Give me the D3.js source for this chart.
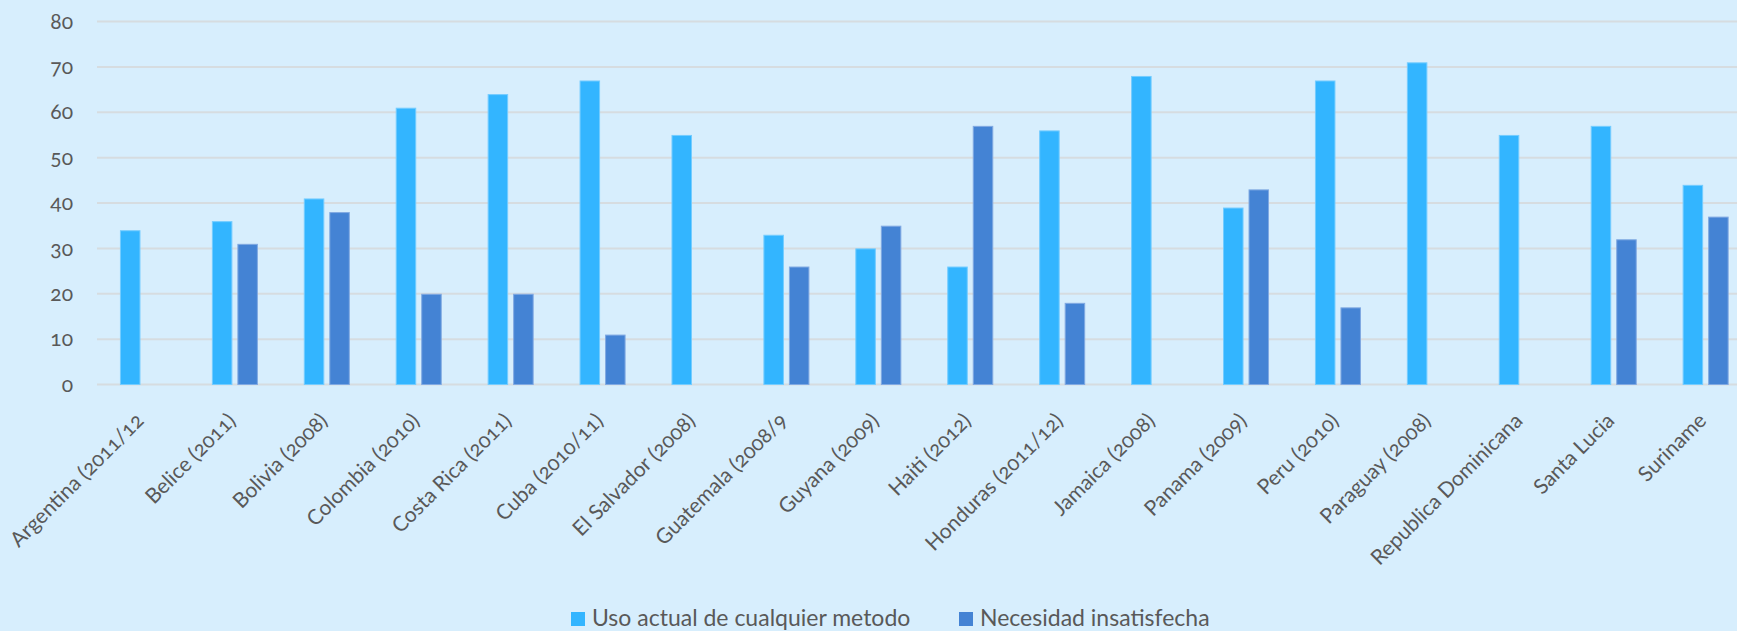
<!DOCTYPE html>
<html>
<head>
<meta charset="utf-8">
<script src="https://cdn.jsdelivr.net/npm/d3@7"></script>
<style>
  html, body { margin: 0; padding: 0; background: #D7EEFD; overflow: hidden; }
  svg { display: block; }
  text { font-family: Lato, "Open Sans", sans-serif; fill: #595959; }
</style>
</head>
<body>
<svg id="chart" width="1737" height="631"></svg>
<script>
const categories = [
  "Argentina (2011/12", "Belice (2011)", "Bolivia (2008)", "Colombia (2010)",
  "Costa Rica (2011)", "Cuba (2010/11)", "El Salvador (2008)", "Guatemala (2008/9",
  "Guyana (2009)", "Haiti (2012)", "Honduras (2011/12)", "Jamaica (2008)",
  "Panama (2009)", "Peru (2010)", "Paraguay (2008)", "Republica Dominicana",
  "Santa Lucia", "Suriname"
];
const seriesNames = ["Uso actual de cualquier metodo", "Necesidad insatisfecha"];
const usoActual = [34, 36, 41, 61, 64, 67, 55, 33, 30, 26, 56, 68, 39, 67, 71, 55, 57, 44];
const necesidad = [null, 31, 38, 20, 20, 11, null, 26, 35, 57, 18, null, 43, 17, null, null, 32, 37];
const yTicks = [0, 10, 20, 30, 40, 50, 60, 70, 80];
const colors = ["#33B5FF", "#4483D4"];
const strokes = ["#74CCFF", "#80A9E2"];

const svg = d3.select("#chart");
const W = 1737;

const x = d3.scaleBand().domain(categories).range([97, 1751.6]).paddingInner(0).paddingOuter(0);
const xs = d3.scaleBand().domain(seriesNames).range([0, x.bandwidth()]).paddingInner(0.196).paddingOuter(0.9);
const y = d3.scaleLinear().domain([0, 80]).range([384.5, 21.5]);

// gridlines
svg.append("g").selectAll("line").data(yTicks).join("line")
  .attr("x1", 97).attr("x2", W)
  .attr("y1", d => y(d)).attr("y2", d => y(d))
  .attr("stroke", "#D6DCE0").attr("stroke-width", 2);

// y axis labels
const yAxis = d3.axisLeft(y).tickValues(yTicks).tickSize(0).tickPadding(0);
const yg = svg.append("g").attr("transform", "translate(73,0)").call(yAxis);
yg.select(".domain").remove();
yg.selectAll("text").attr("font-size", 21).attr("fill", "#595959")
  .style("font-family", "Lato, sans-serif").style("font-variant-numeric", "oldstyle-nums");

// bars
const rows = categories.map((c, i) => ({ c, vals: [usoActual[i], necesidad[i]] }));
const groups = svg.append("g").selectAll("g").data(rows).join("g")
  .attr("transform", d => `translate(${x(d.c)},0)`);
groups.selectAll("rect")
  .data(d => d.vals.map((v, j) => ({ v, j })).filter(e => e.v != null))
  .join("rect")
  .attr("x", e => xs(seriesNames[e.j]) + 0.5)
  .attr("width", xs.bandwidth() - 1)
  .attr("y", e => y(e.v) + 0.5)
  .attr("height", e => y(0) - y(e.v) - 0.5)
  .attr("fill", e => colors[e.j])
  .attr("stroke", e => strokes[e.j])
  .attr("stroke-width", 1);

// x labels
const xAxis = d3.axisBottom(x).tickSize(0).tickPadding(0);
const xg = svg.append("g").call(xAxis);
xg.select(".domain").remove();
xg.selectAll(".tick").attr("transform", d => `translate(${x(d) + x.bandwidth() / 2 + 2},422)`);
xg.selectAll(".tick text")
  .attr("y", 0).attr("dy", 0)
  .attr("text-anchor", "end")
  .attr("transform", "rotate(-45)")
  .attr("font-size", 21).attr("fill", "#595959")
  .style("font-family", "Lato, sans-serif").style("font-variant-numeric", "oldstyle-nums");

// legend
const legendX = [571, 959];
const lg = svg.append("g").selectAll("g").data(seriesNames).join("g")
  .attr("transform", (d, i) => `translate(${legendX[i]},612)`);
lg.append("rect").attr("width", 14).attr("height", 14).attr("fill", (d, i) => colors[i]);
lg.append("text").attr("x", 21).attr("y", 14).attr("font-size", 23).text(d => d);
</script>
</body>
</html>
